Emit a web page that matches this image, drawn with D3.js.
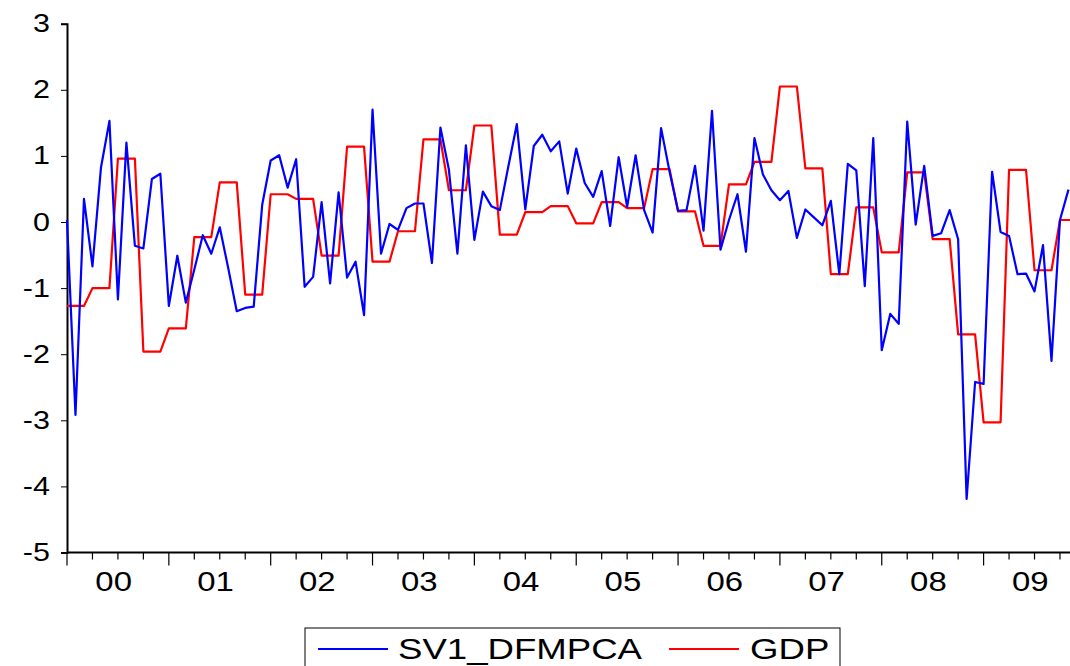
<!DOCTYPE html>
<html>
<head>
<meta charset="utf-8">
<script src="https://cdn.jsdelivr.net/npm/d3@7"></script>
<style>
  html, body { margin: 0; padding: 0; background: #fff; overflow: hidden; }
  svg { display: block; font-family: "Liberation Sans", Arial, sans-serif; }
</style>
</head>
<body>
<div id="chart"></div>
<script>
// Месячный ряд SV1_DFMPCA, 2000M1 ...
const sv1 = [
  0.03, -2.92, 0.35, -0.67, 0.82, 1.53, -1.17, 1.20, -0.36, -0.40, 0.65, 0.73,
  -1.27, -0.51, -1.22, -0.72, -0.20, -0.48, -0.08, -0.70, -1.35, -1.30, -1.28, 0.26,
  0.93, 1.01, 0.52, 0.95, -0.98, -0.83, 0.30, -0.93, 0.45, -0.84, -0.60, -1.41,
  1.70, -0.48, -0.03, -0.12, 0.21, 0.28, 0.28, -0.62, 1.43, 0.79, -0.48, 1.16,
  -0.27, 0.46, 0.24, 0.18, 0.84, 1.48, 0.19, 1.15, 1.32, 1.07, 1.22, 0.43,
  1.11, 0.59, 0.38, 0.77, -0.06, 0.98, 0.23, 1.01, 0.18, -0.16, 1.42, 0.76,
  0.17, 0.18, 0.85, -0.13, 1.68, -0.42, 0.03, 0.42, -0.45, 1.27, 0.72, 0.48,
  0.33, 0.47, -0.24, 0.19, 0.07, -0.05, 0.32, -0.79, 0.88, 0.78, -0.97, 1.27,
  -1.94, -1.39, -1.54, 1.52, -0.04, 0.85, -0.21, -0.17, 0.18, -0.26, -4.19, -2.42,
  -2.45, 0.76, -0.15, -0.21, -0.79, -0.78, -1.05, -0.35, -2.10, 0.03, 0.49
]

// Квартальный GDP, 2000Q1 ... 2009Q4
const gdp = [
  -1.27, -1.00, 0.96, -1.96,
  -1.61, -0.23, 0.60, -1.10,
  0.42, 0.35, -0.51, 1.14,
  -0.60, -0.14, 1.25, 0.48,
  1.46, -0.19, 0.15, 0.24,
  -0.02, 0.30, 0.21, 0.80,
  0.16, -0.36, 0.57, 0.91,
  2.05, 0.81, -0.79, 0.22,
  -0.46, 0.75, -0.26, -1.70,
  -3.03, 0.79, -0.73, 0.03
]

const yearLabels = ['00', '01', '02', '03', '04', '05', '06', '07', '08', '09']
const yTicks = [3, 2, 1, 0, -1, -2, -3, -4, -5]
const seriesNames = ['SV1_DFMPCA', 'GDP']

const config = {
  width: 1070,
  height: 666,
  left: 67,
  monthStep: 8.487,
  top: 23.7,
  bottom: 552.5,
  stretch: 1.22, // шрифт в оригинале растянут по горизонтали
  colors: { sv1: '#0000ff', gdp: '#ff0000', axis: '#000' }
}

// GDP рисуется помесячно: значение квартала на каждом из трёх месяцев
const gdpMonthly = gdp.flatMap(v => [v, v, v])

function render() {
  const { width, height, left, monthStep, top, bottom, stretch, colors } = config

  const svg = d3.select('#chart')
    .append('svg')
    .attr('width', width)
    .attr('height', height)

  const nMonths = yearLabels.length * 12
  const x = d3.scaleLinear()
    .domain([0, nMonths - 1])
    .range([left, left + (nMonths - 1) * monthStep])

  const y = d3.scaleLinear()
    .domain([-5, 3])
    .range([bottom, top])

  // Ось Y
  const yAxis = svg.append('g')
    .attr('transform', `translate(${left},0)`)
    .call(d3.axisLeft(y).tickValues(yTicks).tickSize(6).tickPadding(8).tickFormat(d3.format('d')))
  yAxis.select('.domain').attr('stroke', colors.axis).attr('stroke-width', 2)
  yAxis.selectAll('.tick line').attr('stroke', colors.axis).attr('stroke-width', 1)
  yAxis.selectAll('.tick text')
    .attr('fill', '#000')
    .attr('transform', `scale(${stretch},1)`)
    .style('font-size', '25px')
    .text(d => d < 0 ? '-' + Math.abs(d) : d)

  // Ось X: годовые и квартальные штрихи
  const xAxis = svg.append('g').attr('transform', `translate(0,${bottom})`)
  xAxis.append('line')
    .attr('x1', left).attr('x2', width + 20)
    .attr('stroke', colors.axis).attr('stroke-width', 2)

  const quarterIdx = d3.range(0, nMonths, 3)
  xAxis.selectAll('.qtick')
    .data(quarterIdx)
    .join('line')
    .attr('x1', d => x(d)).attr('x2', d => x(d))
    .attr('y1', 0)
    .attr('y2', d => d % 12 === 0 ? 13 : 7)
    .attr('stroke', colors.axis)
    .attr('stroke-width', 1.2)

  xAxis.selectAll('.ylabel')
    .data(yearLabels)
    .join('text')
    .attr('transform', (d, i) => `translate(${x(i * 12 + 5.5)},38) scale(${stretch},1)`)
    .attr('text-anchor', 'middle')
    .style('font-size', '27px')
    .text(d => d)

  // Линии
  const line = d3.line()
    .x((d, i) => x(i))
    .y(d => y(d))

  svg.append('path')
    .datum(gdpMonthly)
    .attr('fill', 'none')
    .attr('stroke', colors.gdp)
    .attr('stroke-width', 2.2)
    .attr('stroke-linejoin', 'round')
    .attr('d', line)

  svg.append('path')
    .datum(sv1)
    .attr('fill', 'none')
    .attr('stroke', colors.sv1)
    .attr('stroke-width', 2.2)
    .attr('stroke-linejoin', 'round')
    .attr('d', line)

  // Легенда
  const legend = svg.append('g').attr('transform', 'translate(305,628)')
  legend.append('rect')
    .attr('x', 0).attr('y', 0)
    .attr('width', 535).attr('height', 60)
    .attr('fill', '#fff')
    .attr('stroke', '#000')
    .attr('stroke-width', 1)

  const items = [
    { name: seriesNames[0], color: colors.sv1, x0: 13, tx: 93 },
    { name: seriesNames[1], color: colors.gdp, x0: 364, tx: 445 }
  ]
  items.forEach(it => {
    legend.append('line')
      .attr('x1', it.x0).attr('x2', it.x0 + 70)
      .attr('y1', 21).attr('y2', 21)
      .attr('stroke', it.color).attr('stroke-width', 2)
    legend.append('text')
      .attr('transform', `translate(${it.tx},31) scale(${stretch},1)`)
      .style('font-size', '30px')
      .text(it.name)
  })
}

render()
</script>
</body>
</html>
